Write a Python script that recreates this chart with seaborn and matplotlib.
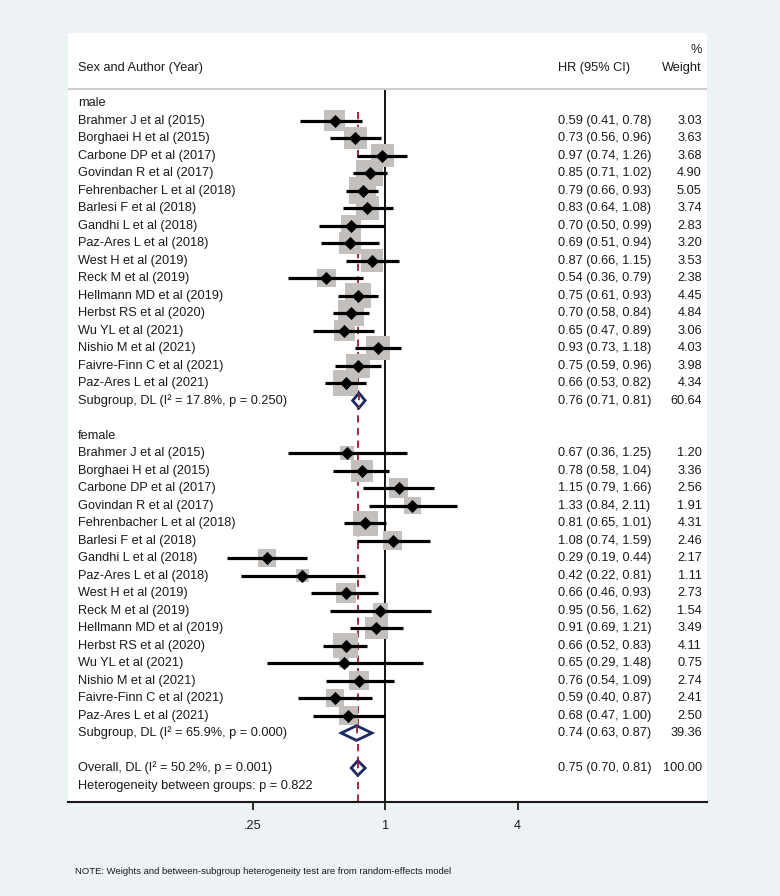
import numpy as np
import pandas as pd
import matplotlib.pyplot as plt
import seaborn as sns

# study data
authors = ["Brahmer J et al (2015)", "Borghaei H et al (2015)", "Carbone DP et al (2017)",
           "Govindan R et al (2017)", "Fehrenbacher L et al (2018)", "Barlesi F et al (2018)",
           "Gandhi L et al (2018)", "Paz-Ares L et al (2018)", "West H et al (2019)",
           "Reck M et al (2019)", "Hellmann MD et al (2019)", "Herbst RS et al (2020)",
           "Wu YL et al (2021)", "Nishio M et al (2021)", "Faivre-Finn C et al (2021)",
           "Paz-Ares L et al (2021)"]

male_hr = [0.59, 0.73, 0.97, 0.85, 0.79, 0.83, 0.70, 0.69, 0.87, 0.54, 0.75, 0.70, 0.65, 0.93, 0.75, 0.66]
male_lo = [0.41, 0.56, 0.74, 0.71, 0.66, 0.64, 0.50, 0.51, 0.66, 0.36, 0.61, 0.58, 0.47, 0.73, 0.59, 0.53]
male_hi = [0.78, 0.96, 1.26, 1.02, 0.93, 1.08, 0.99, 0.94, 1.15, 0.79, 0.93, 0.84, 0.89, 1.18, 0.96, 0.82]
male_w = [3.03, 3.63, 3.68, 4.90, 5.05, 3.74, 2.83, 3.20, 3.53, 2.38, 4.45, 4.84, 3.06, 4.03, 3.98, 4.34]

female_hr = [0.67, 0.78, 1.15, 1.33, 0.81, 1.08, 0.29, 0.42, 0.66, 0.95, 0.91, 0.66, 0.65, 0.76, 0.59, 0.68]
female_lo = [0.36, 0.58, 0.79, 0.84, 0.65, 0.74, 0.19, 0.22, 0.46, 0.56, 0.69, 0.52, 0.29, 0.54, 0.40, 0.47]
female_hi = [1.25, 1.04, 1.66, 2.11, 1.01, 1.59, 0.44, 0.81, 0.93, 1.62, 1.21, 0.83, 1.48, 1.09, 0.87, 1.00]
female_w = [1.20, 3.36, 2.56, 1.91, 4.31, 2.46, 2.17, 1.11, 2.73, 1.54, 3.49, 4.11, 0.75, 2.74, 2.41, 2.50]

# pooled estimates: male subgroup, female subgroup, overall
pooled_labels = ["Subgroup, DL (I\u00b2 = 17.8%, p = 0.250)",
                 "Subgroup, DL (I\u00b2 = 65.9%, p = 0.000)",
                 "Overall, DL (I\u00b2 = 50.2%, p = 0.001)"]
pooled_hr = [0.76, 0.74, 0.75]
pooled_lo = [0.71, 0.63, 0.70]
pooled_hi = [0.81, 0.87, 0.81]
pooled_w = [60.64, 39.36, 100.00]

het_text = "Heterogeneity between groups: p = 0.822"
note_text = "NOTE: Weights and between-subgroup heterogeneity test are from random-effects model"

# ---- build rows ----
rows = []
r = 0
rows.append(dict(row=r, label="male", kind="group")); r += 1
for i, a in enumerate(authors):
    rows.append(dict(row=r, label=a, kind="study", hr=male_hr[i], lo=male_lo[i], hi=male_hi[i], w=male_w[i])); r += 1
rows.append(dict(row=r, label=pooled_labels[0], kind="pooled", hr=pooled_hr[0], lo=pooled_lo[0], hi=pooled_hi[0], w=pooled_w[0])); r += 2
rows.append(dict(row=r, label="female", kind="group")); r += 1
for i, a in enumerate(authors):
    rows.append(dict(row=r, label=a, kind="study", hr=female_hr[i], lo=female_lo[i], hi=female_hi[i], w=female_w[i])); r += 1
rows.append(dict(row=r, label=pooled_labels[1], kind="pooled", hr=pooled_hr[1], lo=pooled_lo[1], hi=pooled_hi[1], w=pooled_w[1])); r += 2
rows.append(dict(row=r, label=pooled_labels[2], kind="pooled", hr=pooled_hr[2], lo=pooled_lo[2], hi=pooled_hi[2], w=pooled_w[2])); r += 1
rows.append(dict(row=r, label=het_text, kind="note"))
df = pd.DataFrame(rows)
studies = df[df.kind == "study"]
pooled = df[df.kind == "pooled"]

sns.set_theme(style="white")
plt.rcParams['font.family'] = ['Liberation Sans', 'DejaVu Sans']

bg = "#edf2f5"
fig = plt.figure(figsize=(7.8, 8.96), dpi=100, facecolor=bg)
ax = fig.add_axes([68 / 780, (896 - 802) / 896, (707 - 68) / 780, (802 - 33) / 896])
ax.set_facecolor("white")
ax.set_xscale("log")
ax.set_xlim(0.036, 29.1)
ax.set_ylim(39.94, -4.0)

# weighted boxes
wmin, wmax = studies.w.min(), studies.w.max()
k = 75
sns.scatterplot(data=studies, x="hr", y="row", size="w", sizes=(k * wmin, k * wmax),
                size_norm=(wmin, wmax), marker="s", color="#c2bfbc", linewidth=0,
                legend=False, ax=ax, zorder=2)
# confidence intervals
ax.hlines(studies.row, studies.lo, studies.hi, color="black", lw=2.3, zorder=3)
sns.scatterplot(data=studies, x="hr", y="row", marker="D", color="black", s=45,
                linewidth=0, legend=False, ax=ax, zorder=4)

# null line and overall line
ax.vlines(1, -0.8, 39.94, color="black", lw=1.3, zorder=1)
ax.vlines(pooled_hr[2], 0.5, 39.94, color="#9b1b30", lw=1.3, linestyles=(0, (4, 3)), zorder=1)

# pooled diamonds
for _, p in pooled.iterrows():
    xs = [p.lo, p.hr, p.hi, p.hr, p.lo]
    ys = [p.row, p.row - 0.42, p.row, p.row + 0.42, p.row]
    ax.fill(xs, ys, facecolor="white", edgecolor="#1b2a63", lw=2, zorder=5)
    ax.vlines(p.hr, p.row - 0.42, p.row + 0.42, color="#9b1b30", lw=1.3, linestyles=(0, (4, 3)), zorder=6)

# text columns
tr = ax.get_yaxis_transform()
fs = 9.2
tc = "#1a1a1a"
for _, rw in df.iterrows():
    ax.text(0.0157, rw.row, rw.label, transform=tr, fontsize=fs, color=tc, va="center", ha="left")
    if rw.kind in ("study", "pooled"):
        ax.text(0.767, rw.row, f"{rw.hr:.2f} ({rw.lo:.2f}, {rw.hi:.2f})", transform=tr,
                fontsize=fs, color=tc, va="center", ha="left")
        ax.text(0.992, rw.row, f"{rw.w:.2f}", transform=tr, fontsize=fs, color=tc,
                va="center", ha="right")

ax.text(0.0157, -2.0, "Sex and Author (Year)", transform=tr, fontsize=fs, color=tc, va="center")
ax.text(0.767, -2.0, "HR (95% CI)", transform=tr, fontsize=fs, color=tc, va="center")
ax.text(0.992, -2.0, "Weight", transform=tr, fontsize=fs, color=tc, va="center", ha="right")
ax.text(0.992, -3.03, "%", transform=tr, fontsize=fs, color=tc, va="center", ha="right")
ax.axhline(-0.8, color="#cfcfcf", lw=1.5, zorder=1)

# axis styling
for s in ["top", "left", "right"]:
    ax.spines[s].set_visible(False)
ax.spines["bottom"].set_color("#1a1a1a")
ax.spines["bottom"].set_linewidth(1.5)
ax.set_xticks([0.25, 1, 4])
ax.set_xticklabels([".25", "1", "4"])
ax.minorticks_off()
ax.set_yticks([])
ax.tick_params(axis="x", bottom=True, length=6, width=1.3, color="#1a1a1a",
               labelsize=fs, labelcolor=tc, pad=7)
ax.set_xlabel("")
ax.set_ylabel("")

fig.text(75 / 780, 1 - 871 / 896, note_text, fontsize=6.8, color=tc, va="center", ha="left")

fig.savefig("out.png", dpi=100, facecolor=bg)
